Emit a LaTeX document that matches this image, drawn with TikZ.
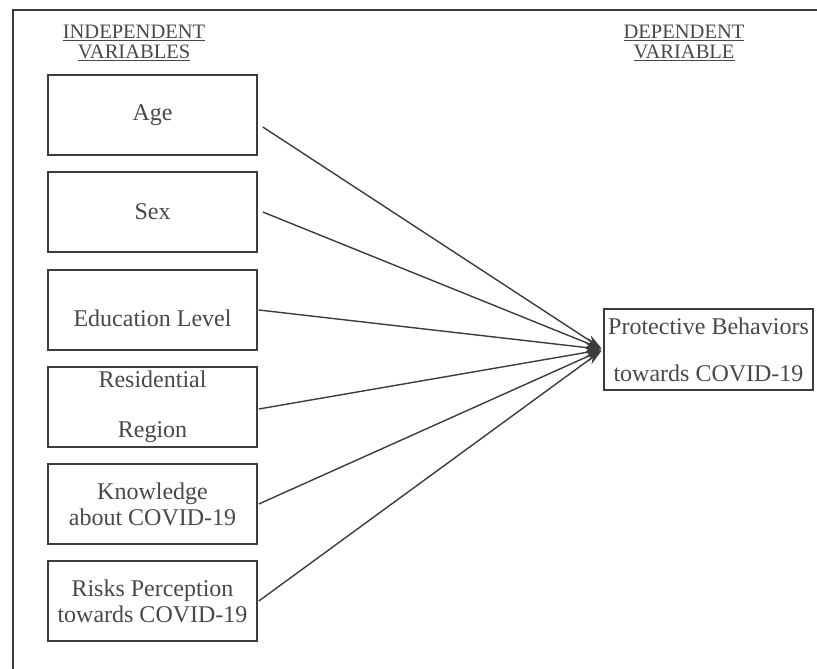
\documentclass[tikz,border=0pt]{standalone}
\usepackage{fontspec}
\setmainfont{Liberation Serif}
\usetikzlibrary{arrows.meta,calc}
\definecolor{txt}{RGB}{72,72,72}
\definecolor{ln}{RGB}{60,60,60}
\begin{document}
\begin{tikzpicture}[x=1pt,y=-1pt,
  varbox/.style={draw=ln,line width=1.6pt,minimum width=209pt,minimum height=80pt,
    inner sep=0pt,align=center,text=txt,font=\fontsize{24}{26}\selectfont},
  header/.style={text=txt,align=center,font=\fontsize{20.5}{20}\selectfont,inner sep=0pt},
  conn/.style={draw=ln,line width=1.4pt,-{Stealth[length=16pt,width=10pt]},shorten >=2pt}]
\useasboundingbox (0,0) rectangle (817,669);
\draw[ln,line width=1.8pt] (13,669) -- (13,10) -- (817,10);
\node[header] (h1) at (134,43) {\underline{INDEPENDENT}\\[0pt]\underline{VARIABLES}};
\node[header] (h2) at (684,43) {\underline{DEPENDENT}\\[0pt]\underline{VARIABLE}};
\node[varbox] (a) at (152.5,115) {Age};
\node[varbox] (s) at (152.5,212) {Sex};
\node[varbox] (e) at (152.5,310) {\smash{\raisebox{-16pt}{Education Level}}};
\node[varbox] (r) at (152.5,407) {Residential\\[24pt]Region};
\node[varbox] (k) at (152.5,504) {Knowledge\\about COVID-19};
\node[varbox] (p) at (152.5,601) {Risks Perception\\towards COVID-19};
\node[varbox,minimum width=209pt,minimum height=81pt] (t) at (708.5,349.5) {Protective Behaviors\\[21pt]towards COVID-19};
\coordinate (tip) at (t.west);
\draw[conn] ($(a.east)+(5,12)$) -- (tip);
\draw[conn] ($(s.east)+(5,0)$) -- (tip);
\draw[conn] ($(e.east)+(1,0)$) -- (tip);
\draw[conn] ($(r.east)+(1,2)$) -- (tip);
\draw[conn] ($(k.east)+(1,0)$) -- (tip);
\draw[conn] ($(p.east)+(1,0)$) -- (tip);
\end{tikzpicture}
\end{document}
